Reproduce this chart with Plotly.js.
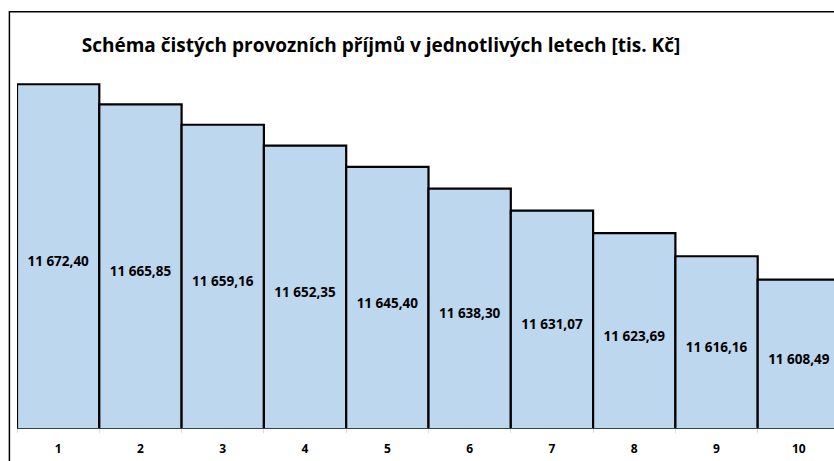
<!DOCTYPE html>
<html>
<head>
<meta charset="utf-8">
<script src="https://cdn.plot.ly/plotly-3.0.1.min.js"></script>
<style>
html,body{margin:0;padding:0;overflow:hidden;background:#fff;}
#chart{width:850px;height:461px;}
</style>
</head>
<body>
<div id="chart"></div>
<script>
const years = ['1','2','3','4','5','6','7','8','9','10'];
const incomes = [11672.40, 11665.85, 11659.16, 11652.35, 11645.40, 11638.30, 11631.07, 11623.69, 11616.16, 11608.49];
const chartTitle = 'Schéma čistých provozních příjmů v jednotlivých letech [tis. Kč]';
const yMin = 11560, yMax = 11680;

const bars = {
  type: 'bar',
  x: years,
  y: incomes,
  marker: {color: '#BDD7EE', line: {color: '#000000', width: 2.2}},
  textposition: 'none',
  hoverinfo: 'none'
};

// data labels centred in the visible part of each bar
const labels = {
  type: 'scatter',
  mode: 'text',
  x: years,
  y: incomes.map(v => (v + yMin) / 2),
  customdata: incomes,
  texttemplate: '%{customdata:,.2f}',
  textposition: 'bottom center',
  textfont: {family: '"Open Sans", sans-serif', size: 13.5, color: '#000', weight: 'bold'},
  hoverinfo: 'none',
  cliponaxis: false
};

const layout = {
  width: 850, height: 461,
  margin: {l: 17.3, r: 9.7, t: 61, b: 33.3},
  separators: ', ',
  bargap: 0,
  paper_bgcolor: '#fff', plot_bgcolor: '#fff',
  showlegend: false,
  title: {
    text: chartTitle,
    font: {family: '"Open Sans", sans-serif', size: 19, color: '#000', weight: 'bold'},
    xref: 'container', x: 381/850, xanchor: 'center',
    yref: 'container', y: 1 - 45/461, yanchor: 'middle'
  },
  xaxis: {
    type: 'category',
    showline: true, linecolor: '#404040', linewidth: 1,
    ticks: 'outside', tickson: 'boundaries', ticklen: 4, tickcolor: '#d9d9d9',
    ticklabelstandoff: 10,
    tickfont: {family: '"Open Sans", sans-serif', size: 12, color: '#000', weight: 'bold'},
    showgrid: false, zeroline: false
  },
  yaxis: {
    range: [yMin, yMax],
    visible: false, showgrid: false, zeroline: false
  },
  shapes: [{
    type: 'rect', xref: 'paper', yref: 'paper',
    x0: (9.7 - 17.3) / 823, x1: 1.05, y0: -0.5, y1: (427.7 - 11.7) / 366.7,
    line: {color: '#000', width: 1.5}, fillcolor: 'rgba(0,0,0,0)', layer: 'above'
  }]
};

Plotly.newPlot('chart', [bars, labels], layout, {displayModeBar: false, staticPlot: true});
</script>
</body>
</html>
